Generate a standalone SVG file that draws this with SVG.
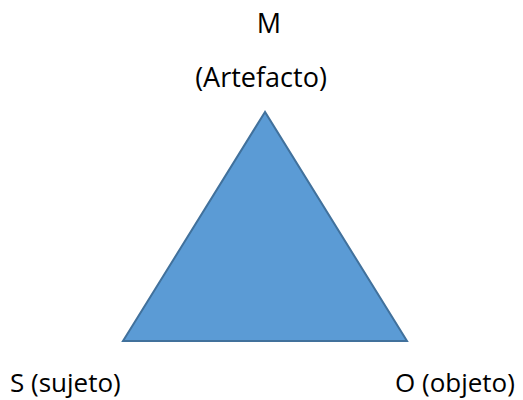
<svg xmlns="http://www.w3.org/2000/svg" width="523" height="400" viewBox="0 0 523 400">
<style>
.lbl{font-family:"Open Sans","Noto Sans",sans-serif;font-size:27px;fill:#000}
.btm{font-size:26px}
.tri{fill:#5B9BD5;stroke:#41719C;stroke-width:2}
</style>
<rect width="523" height="400" fill="#fff"/>
<g id="triangle">
<polygon class="tri" points="265,112 123,341 407,341"/>
</g>
<g id="node-M">
<text class="lbl" x="269" y="33" text-anchor="middle">M</text>
<text class="lbl" x="261" y="87" text-anchor="middle">(Artefacto)</text>
</g>
<g id="node-S">
<text class="lbl btm" x="10" y="392">S (sujeto)</text>
</g>
<g id="node-O">
<text class="lbl btm" x="395" y="392">O (objeto)</text>
</g>
<g id="connectors"></g>
</svg>
